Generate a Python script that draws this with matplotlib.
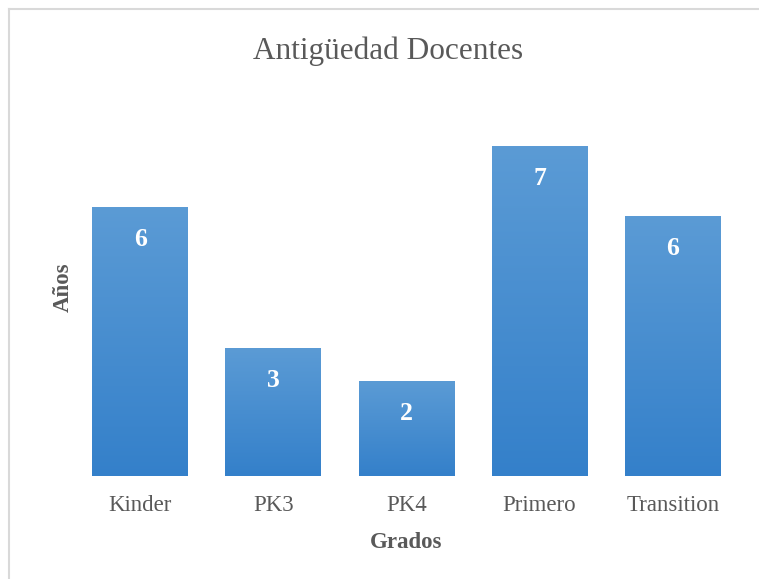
import numpy as np
import matplotlib.pyplot as plt
from matplotlib.lines import Line2D
from matplotlib.colors import LinearSegmentedColormap

# Data: -
grados = ['Kinder', 'PK3', 'PK4', 'Primero', 'Transition']
anios = [5.7, 2.7, 2.0, 7.0, 5.5]
etiquetas = ['6', '3', '2', '7', '6']

plt.rcParams['font.family'] = ['Liberation Serif', 'DejaVu Serif']
gris = '#595959'

fig = plt.figure(figsize=(7.59, 5.79), dpi=100)
ax = fig.add_axes([0.097, 0.178, 0.877, 0.651])

# Gradient for the bars (lighter at the top)
cmap = LinearSegmentedColormap.from_list('azul', ['#3480CA', '#5B9BD5'])
grad = np.linspace(0, 1, 256).reshape(-1, 1)
ancho = 0.72
for i, v in enumerate(anios):
    ax.imshow(grad, extent=[i - ancho / 2, i + ancho / 2, 0, v], origin='lower',
              cmap=cmap, aspect='auto', zorder=2)
    ax.text(i, v - 0.68, etiquetas[i], ha='center', va='center', color='white',
            fontsize=18.5, fontweight='bold', zorder=3)

ax.set_xlim(-0.5, len(grados) - 0.5)
ax.set_ylim(0, 8)
ax.set_xticks(range(len(grados)))
ax.set_xticklabels(grados, fontsize=16.5, color=gris)
ax.tick_params(axis='x', length=0, pad=14)
ax.set_yticks([])
for s in ax.spines.values():
    s.set_visible(False)

ax.set_xlabel('Grados', fontsize=16.5, fontweight='bold', color=gris, labelpad=11)
ax.set_ylabel('Años', fontsize=16.5, fontweight='bold', color=gris, labelpad=0)
fig.text(0.511, 0.912, 'Antigüedad Docentes', ha='center', va='center',
         fontsize=22.5, color=gris)

# Chart area border (top and left visible)
x0 = 8.5 / 759
y0 = 1 - 8.5 / 579
fig.add_artist(Line2D([x0, 1], [y0, y0], color='#D9D9D9', lw=1.5))
fig.add_artist(Line2D([x0, x0], [0, y0], color='#D9D9D9', lw=1.5))

plt.savefig('out.png', dpi=100)
